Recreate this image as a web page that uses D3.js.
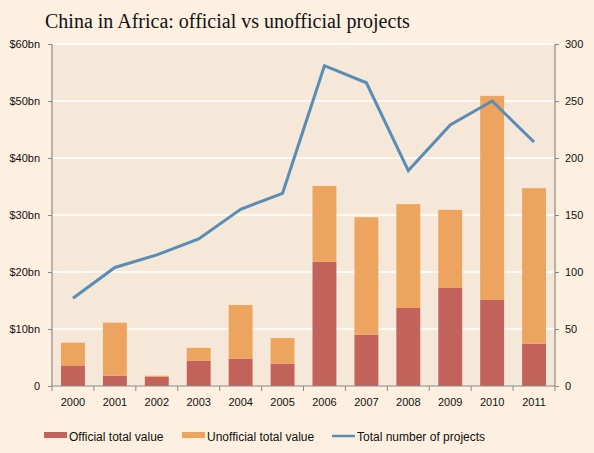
<!DOCTYPE html>
<html><head><meta charset="utf-8">
<script src="https://cdn.jsdelivr.net/npm/d3@7"></script>
<style>
body{margin:0;background:#fdf0e0;}
svg{display:block;}
text{font-family:"Liberation Sans",Arial,sans-serif;}
</style></head>
<body>
<svg id="c" width="594" height="453"></svg>
<script>
const years = ["2000","2001","2002","2003","2004","2005","2006","2007","2008","2009","2010","2011"];
const officialValue = [3.6, 1.8, 1.6, 4.4, 4.8, 3.9, 21.8, 9.0, 13.7, 17.2, 15.1, 7.4];
const totalValue = [7.6, 11.1, 1.8, 6.7, 14.2, 8.4, 35.1, 29.6, 31.9, 30.9, 50.9, 34.7];
const projectCount = [77, 104, 115, 129, 155, 169, 281, 266, 189, 229, 250, 214];
const leftTicks = [0, 10, 20, 30, 40, 50, 60];
const leftTickLabels = ["0", "$10bn", "$20bn", "$30bn", "$40bn", "$50bn", "$60bn"];
const rightTicks = [0, 50, 100, 150, 200, 250, 300];
const seriesNames = ["Official total value", "Unofficial total value", "Total number of projects"];

const colors = {official:"#c1635a", unofficial:"#eca45e", line:"#5a8db6"};
const svg = d3.select("#c");
const L = 52, R = 555, T = 44, B = 386;

svg.append("rect").attr("width",594).attr("height",453).attr("fill","#fdf0e0");
svg.append("rect").attr("x",L).attr("y",T).attr("width",R-L).attr("height",B-T).attr("fill","#f5e8d8");

svg.append("text").attr("x",45).attr("y",28)
  .style("font-family","'Liberation Serif','DejaVu Serif',serif").style("font-size","20px").attr("fill","#111")
  .text("China in Africa: official vs unofficial projects");

const x = d3.scaleBand().domain(years).range([L,R]).paddingInner(0.43).paddingOuter(0.215);
const xb = d3.scaleBand().domain(years).range([L,R]);
const yL = d3.scaleLinear().domain([0,60]).range([B,T]);
const yR = d3.scaleLinear().domain([0,300]).range([B,T]);

// gridlines
svg.append("g").selectAll("line").data(leftTicks.slice(1)).join("line")
  .attr("x1",L).attr("x2",R).attr("y1",d=>yL(d)).attr("y2",d=>yL(d))
  .attr("stroke","#ffffff").attr("stroke-width",1.3);

// bars
const g = svg.append("g");
g.selectAll(".off").data(years).join("rect")
  .attr("x",d=>x(d)).attr("width",x.bandwidth())
  .attr("y",(d,i)=>yL(officialValue[i])).attr("height",(d,i)=>yL(0)-yL(officialValue[i]))
  .attr("fill",colors.official);
g.selectAll(".unoff").data(years).join("rect")
  .attr("x",d=>x(d)).attr("width",x.bandwidth())
  .attr("y",(d,i)=>yL(totalValue[i])).attr("height",(d,i)=>yL(officialValue[i])-yL(totalValue[i]))
  .attr("fill",colors.unofficial);

// line
const line = d3.line().x((d,i)=>x(years[i])+x.bandwidth()/2).y(d=>yR(d));
svg.append("path").datum(projectCount).attr("d",line)
  .attr("fill","none").attr("stroke",colors.line).attr("stroke-width",3).attr("stroke-linejoin","miter");

// axes
const axColor = "#8a8a8a";
const la = svg.append("g").attr("transform",`translate(${L},0)`)
  .call(d3.axisLeft(yL).tickValues(leftTicks).tickFormat((d,i)=>leftTickLabels[i]).tickSize(4).tickPadding(8));
const ra = svg.append("g").attr("transform",`translate(${R},0)`)
  .call(d3.axisRight(yR).tickValues(rightTicks).tickSize(4).tickPadding(6));
const ba = svg.append("g").attr("transform",`translate(0,${B})`)
  .call(d3.axisBottom(x).tickSize(0).tickPadding(12));
// category boundary ticks
svg.append("g").selectAll("line").data(years.concat(["end"])).join("line")
  .attr("x1",(d,i)=> i<years.length ? xb(d) : R).attr("x2",(d,i)=> i<years.length ? xb(d) : R)
  .attr("y1",B).attr("y2",B+5).attr("stroke",axColor);
[la,ra,ba].forEach(a=>{
  a.selectAll("path.domain").attr("stroke",axColor).attr("stroke-width",1.2);
  a.selectAll(".tick line").attr("stroke",axColor);
  a.selectAll("text").attr("fill","#111").style("font-size","11px").style("font-family","'Liberation Sans',Arial,sans-serif");
});
ba.select("path.domain").attr("d",`M${L},0H${R}`);
la.select("path.domain").attr("d",`M0,${T}V${B}`);
ra.select("path.domain").attr("d",`M0,${T}V${B}`);

// legend
const lg = svg.append("g").style("font-size","12px");
const legendItems = [
  {name:seriesNames[0], x:44, type:"rect", c:colors.official},
  {name:seriesNames[1], x:182, type:"rect", c:colors.unofficial},
  {name:seriesNames[2], x:332, type:"line", c:colors.line}
];
legendItems.forEach(it=>{
  if(it.type==="rect") lg.append("rect").attr("x",it.x).attr("y",432).attr("width",23).attr("height",6).attr("fill",it.c);
  else lg.append("line").attr("x1",it.x).attr("x2",it.x+23).attr("y1",436).attr("y2",436).attr("stroke",it.c).attr("stroke-width",2.5);
  lg.append("text").attr("x",it.x+25).attr("y",440.5).attr("fill","#111").text(it.name);
});
</script>
</body></html>
